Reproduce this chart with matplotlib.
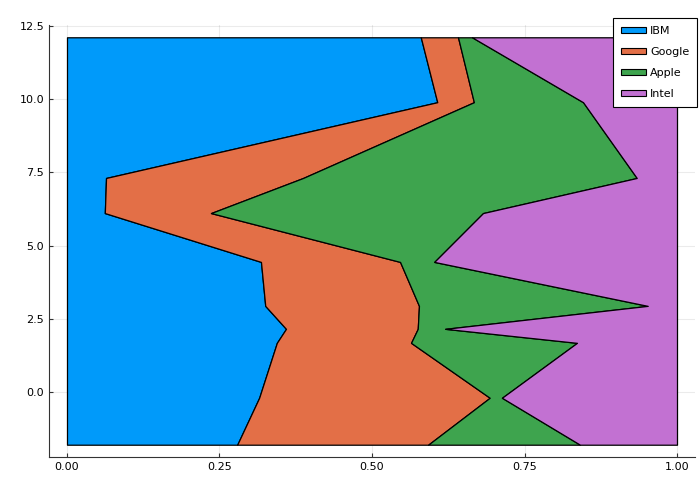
import matplotlib
matplotlib.use("Agg")
import matplotlib.pyplot as plt
from matplotlib.patches import Patch
import numpy as np

y = [-1.81, -0.205, 1.673, 2.152, 2.937, 4.44, 6.11, 7.31, 9.90, 12.12]
ibm = [0.279, 0.315, 0.344, 0.359, 0.325, 0.318, 0.062, 0.064, 0.607, 0.580]
google = [0.313, 0.378, 0.220, 0.216, 0.252, 0.228, 0.174, 0.323, 0.060, 0.061]
apple = [0.249, 0.020, 0.272, 0.045, 0.375, 0.056, 0.446, 0.547, 0.179, 0.023]
intel = [0.159, 0.287, 0.164, 0.380, 0.048, 0.398, 0.318, 0.066, 0.154, 0.336]
labels = ["IBM", "Google", "Apple", "Intel"]
colors = ["#009AFA", "#E36F47", "#3EA44E", "#C271D2"]

xticks = [0.0, 0.25, 0.5, 0.75, 1.0]
yticks = [0.0, 2.5, 5.0, 7.5, 10.0, 12.5]

fig = plt.figure(figsize=(7, 5), dpi=100)
ax = fig.add_axes([49/700, 1-457/500, (695-49)/700, (457-25)/500])

series = [ibm, google, apple, intel]
left = np.zeros(len(y))
for s, c in zip(series, colors):
    right = left + np.array(s)
    ax.fill_betweenx(y, left, right, facecolor=c, edgecolor="black", linewidth=0.9, zorder=2)
    left = right

ax.set_xlim(-0.0295, 1.0295)
ax.set_ylim(-2.23, 12.54)
ax.set_xticks(xticks)
ax.set_xticklabels(["0.00", "0.25", "0.50", "0.75", "1.00"])
ax.set_yticks(yticks)
ax.set_yticklabels(["0.0", "2.5", "5.0", "7.5", "10.0", "12.5"])
ax.grid(True, color="black", alpha=0.08, linewidth=0.8, zorder=0)
ax.set_axisbelow(True)
for sp in ["top", "right"]:
    ax.spines[sp].set_visible(False)
ax.spines["left"].set_color("#333333")
ax.spines["bottom"].set_color("#333333")
ax.tick_params(direction="in", length=3, labelsize=8, colors="#333333", labelcolor="black")

handles = [Patch(facecolor=c, edgecolor="black", linewidth=0.8) for c in colors]
leg = ax.legend(handles, labels, loc="upper right", bbox_to_anchor=(697/700, 1-18/500),
                bbox_transform=fig.transFigure, borderaxespad=0, fontsize=8, frameon=True,
                fancybox=False, edgecolor="black", framealpha=1, handlelength=2.3,
                handleheight=0.45, borderpad=0.7, labelspacing=1.0, handletextpad=0.35)
leg.get_frame().set_linewidth(0.8)

fig.savefig("out.png", dpi=100)
